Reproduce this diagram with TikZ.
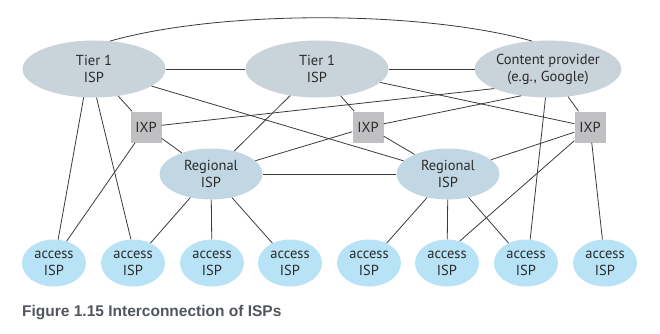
\documentclass[tikz,border=0pt]{standalone}
\usepackage{fontspec}
\setmainfont{PT Sans}
\newfontfamily\capfont{Liberation Sans}
\usetikzlibrary{shapes.geometric}
\definecolor{tiercol}{HTML}{C9D3DA}
\definecolor{ixpcol}{HTML}{C0C0C2}
\definecolor{regcol}{HTML}{C1D8E4}
\definecolor{acccol}{HTML}{B8E3F7}
\definecolor{txtcol}{HTML}{2B2B2B}
\definecolor{capcol}{HTML}{50555E}
\definecolor{linecol}{HTML}{3A3A3A}
\begin{document}
\begin{tikzpicture}[x=1pt,y=-1pt,
  lbl/.style={font=\fontsize{14.5}{17}\selectfont, text=txtcol, align=center, inner sep=0pt},
  tier/.style={lbl, ellipse, fill=tiercol, minimum width=143pt, minimum height=57pt},
  regional/.style={lbl, ellipse, fill=regcol, minimum width=103pt, minimum height=51pt},
  access/.style={lbl, ellipse, fill=acccol, minimum width=64pt, minimum height=47pt},
  ixp/.style={lbl, rectangle, fill=ixpcol, minimum width=31pt, minimum height=31pt},
  link/.style={draw=linecol, line width=0.8pt}]
\useasboundingbox (0,0) rectangle (660,333);
% nodes
\node[tier] (t1) at (94,69) {Tier 1\\ISP};
\node[tier] (t2) at (317,69) {Tier 1\\ISP};
\node[tier] (cp) at (548,69) {Content provider\\(e.g., Google)};
\node[ixp] (x1) at (146,127) {IXP};
\node[ixp] (x2) at (368,127) {IXP};
\node[ixp] (x3) at (590,127) {IXP};
\node[regional] (r1) at (211,174) {Regional\\ISP};
\node[regional] (r2) at (448,174) {Regional\\ISP};
\foreach \i/\x in {1/54,2/133,3/212,4/290,5/369,6/447,7/526,8/605}
  \node[access] (a\i) at (\x,263) {access\\ISP};
\node[font=\capfont\bfseries\fontsize{15.5}{18}\selectfont, text=capcol, anchor=west, inner sep=0pt] (cap) at (22,313) {Figure 1.15 Interconnection of ISPs};
% links
\path[link] (t1.60) .. controls (220,10) and (420,10) .. (cp.120);
\path[link] (t1) -- (t2);
\path[link] (t2) -- (cp);
\path[link] (t1) -- (r2);
\path[link] (t1) -- (x1);
\path[link] (t1.250) -- (a1.80);
\path[link] (t1.275) -- (a2.95);
\path[link] (x1) -- (a1.60);
\path[link] (x1) -- (r1);
\path[link] (x1) -- (cp.200);
\path[link] (t2) -- (r1);
\path[link] (r1) -- (x2);
\path[link] (t2) -- (x2);
\path[link] (x2) -- (r2);
\path[link] (x2) -- (cp.225);
\path[link] (t2) -- (x3);
\path[link] (cp) -- (x3);
\path[link] (x3) -- (r2);
\path[link] (cp.265) -- (a7.80);
\path[link] (x3) -- (a6.60);
\path[link] (x3) -- (a8);
\path[link] (r1) -- (r2);
\path[link] (r1) -- (a2);
\path[link] (r1) -- (a3);
\path[link] (r1) -- (a4);
\path[link] (r2) -- (a5);
\path[link] (r2) -- (a6);
\path[link] (r2) -- (a7);
\end{tikzpicture}
\end{document}
